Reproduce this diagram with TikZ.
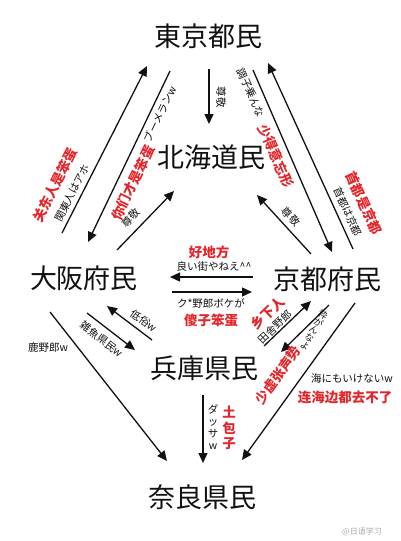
\documentclass[tikz,border=0pt]{standalone}
\usepackage{fontspec}
\usepackage{xcolor}
\usetikzlibrary{arrows.meta}
\setmainfont{Noto Sans CJK JP}
\newfontfamily\zhfont{Noto Sans CJK SC}
\definecolor{ink}{HTML}{111111}
\definecolor{warn}{HTML}{E3262B}
\definecolor{mark}{HTML}{A8A8A8}
\tikzset{
  place/.style={font=\fontsize{27}{30}\selectfont,text=ink,inner sep=0pt},
  jp/.style={font=\fontsize{10.5}{12}\selectfont,text=ink,inner sep=0pt},
  zh/.style={font=\zhfont\bfseries\fontsize{13.5}{15.5}\selectfont,text=warn,inner sep=0pt},
  link/.style={-{Triangle[length=10pt,width=9pt]},draw=ink,line width=1.3pt}
}

\begin{document}
\begin{tikzpicture}[x=1pt,y=-1pt]
  \useasboundingbox (0,0) rectangle (400,541);
  % places
  \node[place] (tokyo) at (208,36) {東京都民};
  \node[place] (hokkaido) at (211,157) {北海道民};
  \node[place] (osaka) at (84,278) {大阪府民};
  \node[place] (kyoto) at (327,279) {京都府民};
  \node[place] (hyogo) at (204,368) {兵庫県民};
  \node[place] (nara) at (202,497) {奈良県民};
  % arrow ends
  \coordinate (th1) at (209,69);  \coordinate (th2) at (209,124);
  \coordinate (ot1) at (62,233);  \coordinate (ot2) at (147,66);
  \coordinate (to1) at (170,71);  \coordinate (to2) at (88,242);
  \coordinate (oh1) at (117,250); \coordinate (oh2) at (174,191);
  \coordinate (tk1) at (253,70);  \coordinate (tk2) at (332,252);
  \coordinate (kt1) at (353,249); \coordinate (kt2) at (268,63);
  \coordinate (kh1) at (311,254); \coordinate (kh2) at (257,195);
  \coordinate (ko1) at (253,277); \coordinate (ko2) at (170,277);
  \coordinate (ok1) at (172,292); \coordinate (ok2) at (252,292);
  \coordinate (oy1) at (87,313);  \coordinate (oy2) at (135,350);
  \coordinate (yo1) at (152,340); \coordinate (yo2) at (107,306);
  \coordinate (on1) at (50,312);  \coordinate (on2) at (167,461);
  \coordinate (yn1) at (203,395); \coordinate (yn2) at (203,463);
  \coordinate (yk1) at (264,346); \coordinate (yk2) at (311,301);
  \coordinate (ky1) at (329,305); \coordinate (ky2) at (281,352);
  \coordinate (kn1) at (355,303); \coordinate (kn2) at (242,460);
  % arrows
  \draw[link] (th1) -- (th2);
  \draw[link] (ot1) -- (ot2);
  \draw[link] (to1) -- (to2);
  \draw[link] (oh1) -- (oh2);
  \draw[link] (tk1) -- (tk2);
  \draw[link] (kt1) -- (kt2);
  \draw[link] (kh1) -- (kh2);
  \draw[link] (ko1) -- (ko2);
  \draw[link] (ok1) -- (ok2);
  \draw[link] (oy1) -- (oy2);
  \draw[link] (yo1) -- (yo2);
  \draw[link] (on1) -- (on2);
  \draw[link] (yn1) -- (yn2);
  \draw[link] (yk1) -- (yk2);
  \draw[link] (ky1) -- (ky2);
  \draw[link] (kn1) -- (kn2);
  % labels
  \node[jp,rotate=-90] (th-jp) at (221,97) {尊敬};
  \node[jp,rotate=63] (ot-jp) at (72,193) {関東人はアホ};
  \node[zh,rotate=63] (ot-zh) at (55,185) {关东人是笨蛋};
  \node[jp,rotate=64.4] (to-jp) at (160,114) {ブーメランw};
  \node[zh,rotate=64.4] (to-zh) at (133,183) {你们才是笨蛋};
  \node[jp,rotate=46] (oh-jp) at (131,218) {尊敬};
  \node[jp,rotate=-66.5] (tk-jp) at (251,93) {調子乗んな};
  \node[zh,rotate=-66.5] (tk-zh) at (276,156) {少得意忘形};
  \node[jp,rotate=-65.4] (kt-jp) at (348,212) {首都は京都};
  \node[zh,rotate=-65.4] (kt-zh) at (364,203) {首都是京都};
  \node[jp,rotate=-47.7] (kh-jp) at (291,217) {尊敬};
  \node[zh] (ko-zh) at (209,252) {好地方};
  \node[jp] (ko-jp) at (214,267) {良い街やねえ\^{}\^{}};
  \node[jp] (ok-jp) at (211,303) {ク*野郎ボケが};
  \node[zh] (ok-zh) at (211,320) {傻子笨蛋};
  \node[jp,rotate=-37.6] (oy-jp) at (102,339) {雑魚県民w};
  \node[jp,rotate=-37] (yo-jp) at (144,321) {低俗w};
  \node[jp] (on-jp) at (48,348) {鹿野郎w};
  \node[jp,align=center] (yn-jp) at (213,427) {ダ\\ッ\\サ\\w};
  \node[zh,align=center] (yn-zh) at (229,428) {土\\包\\子};
  \node[jp,rotate=43.8] (yk-jp) at (275,327) {田舎野郎};
  \node[zh,rotate=43.8] (yk-zh) at (268,313) {乡下人};
  \node[jp,rotate=-30,align=center,font=\fontsize{9}{9}\selectfont] (ky-jp) at (314,330) {粋\\が\\ん\\な\\よ};
  \node[zh,rotate=54.3] (kn-zh) at (278,375) {少虚张声势};
  \node[jp] (kn-jp) at (352,378) {海にもいけないw};
  \node[zh] (kn-zh2) at (345,397) {连海边都去不了};
  \node[font=\zhfont\fontsize{8}{9}\selectfont,text=mark,inner sep=0pt] (wm) at (362,532) {@日语学习};
\end{tikzpicture}
\end{document}
